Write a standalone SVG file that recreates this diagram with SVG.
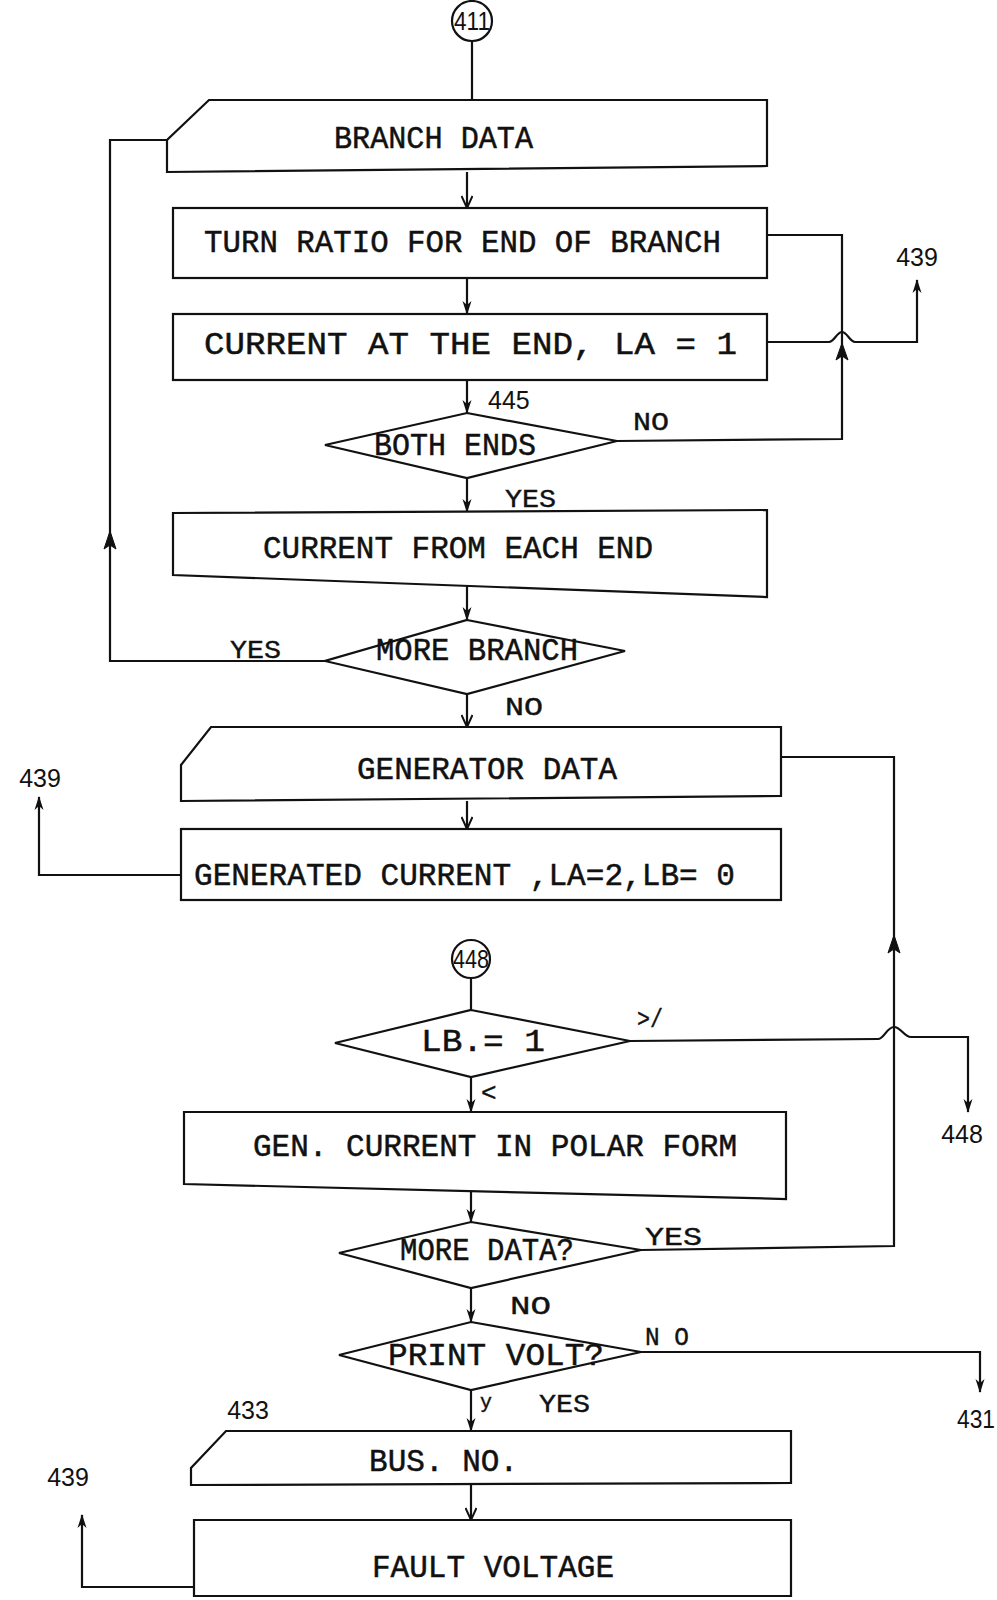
<svg xmlns="http://www.w3.org/2000/svg" width="997" height="1600" viewBox="0 0 997 1600">
<defs>
<style>
.s{fill:#fff;stroke:#111;stroke-width:2.2}
.c{fill:none;stroke:#111;stroke-width:2.2}
.t{font-family:"Liberation Mono","DejaVu Sans Mono",monospace;font-size:32px;fill:#111;stroke:#111;stroke-width:0.5}
.l{font-family:"Liberation Mono","DejaVu Sans Mono",monospace;font-size:26px;fill:#111;stroke:#111;stroke-width:0.4}
.n{font-family:"Liberation Sans","DejaVu Sans",sans-serif;font-size:25px;fill:#111}
.ah{fill:#111;stroke:#111;stroke-width:1}
</style>
<marker id="fa" viewBox="0 0 14 10" refX="13" refY="5" markerWidth="14" markerHeight="10" markerUnits="userSpaceOnUse" orient="auto">
<path d="M0,0.5 L14,5 L0,9.5 L4,5 z" fill="#111"/>
</marker>
<marker id="va" viewBox="0 0 14 12" refX="13" refY="6" markerWidth="14" markerHeight="12" markerUnits="userSpaceOnUse" orient="auto">
<path d="M1,0.5 L13,6 L1,11.5" fill="none" stroke="#111" stroke-width="2"/>
</marker>
</defs>
<rect width="997" height="1600" fill="#fff"/>

<g id="connectors">
<path class="c" d="M472,41 V100"/>
<path class="c" d="M467,172 V208" marker-end="url(#va)"/>
<path class="c" d="M467,278 V314" marker-end="url(#fa)"/>
<path class="c" d="M467,380 V413" marker-end="url(#fa)"/>
<path class="c" d="M467,478 V512" marker-end="url(#fa)"/>
<path class="c" d="M467,585 V620" marker-end="url(#fa)"/>
<path class="c" d="M467,694 V727" marker-end="url(#va)"/>
<path class="c" d="M467,801 V829" marker-end="url(#va)"/>
<path class="c" d="M471,978 V1010"/>
<path class="c" d="M471,1077 V1112" marker-end="url(#fa)"/>
<path class="c" d="M471,1184 V1222" marker-end="url(#fa)"/>
<path class="c" d="M471,1288 V1322" marker-end="url(#fa)"/>
<path class="c" d="M471,1390 V1431" marker-end="url(#fa)"/>
<path class="c" d="M471,1485 V1520" marker-end="url(#va)"/>
<path class="c" d="M617,441 L842,439 V235 H767"/>
<path class="ah" d="M842,343 L836,360 L842,356 L848,360 z"/>
<path class="c" d="M767,342 H829 C834,342 837,332 842,332 C847,332 850,342 855,342 H917 V280" marker-end="url(#fa)"/>
<path class="c" d="M325,661 H110 V140 H167"/>
<path class="ah" d="M110,531 L104,549 L110,545 L116,549 z"/>
<path class="c" d="M181,875 H39 V797" marker-end="url(#fa)"/>
<path class="c" d="M641,1250 L894,1246 V757 H781"/>
<path class="ah" d="M894,935 L888,953 L894,949 L900,953 z"/>
<path class="c" d="M630,1041 L878,1039 C884,1039 887,1027 894,1027 C901,1027 904,1037 911,1037 H968 V1112" marker-end="url(#fa)"/>
<path class="c" d="M641,1352 H980 V1392" marker-end="url(#fa)"/>
<path class="c" d="M194,1587 H82 V1515" marker-end="url(#fa)"/>
</g>

<g id="n411">
<circle class="s" cx="472" cy="21" r="20"/>
<text class="n" x="472" y="30" text-anchor="middle" textLength="36" lengthAdjust="spacingAndGlyphs">411</text>
</g>
<g id="branch_data">
<path class="s" d="M209,100 H767 V166 L167,172 V140 Z"/>
<text class="t" x="334" y="148" textLength="199" lengthAdjust="spacingAndGlyphs">BRANCH DATA</text>
</g>
<g id="turn_ratio">
<rect class="s" x="173" y="208" width="594" height="70"/>
<text class="t" x="204" y="252" textLength="517" lengthAdjust="spacingAndGlyphs">TURN RATIO FOR END OF BRANCH</text>
</g>
<g id="current_end">
<rect class="s" x="173" y="314" width="594" height="66"/>
<text class="t" x="204" y="354" textLength="533" lengthAdjust="spacingAndGlyphs">CURRENT AT THE END,  LA  =  1</text>
</g>
<g id="both_ends">
<path class="s" d="M467,413 L617,441 L467,478 L325,445 Z"/>
<text class="t" x="374" y="455" textLength="162" lengthAdjust="spacingAndGlyphs">BOTH ENDS</text>
</g>
<g id="current_each">
<path class="s" d="M173,513 L767,510 V597 L173,575 Z"/>
<text class="t" x="263" y="558" textLength="390" lengthAdjust="spacingAndGlyphs">CURRENT FROM EACH END</text>
</g>
<g id="more_branch">
<path class="s" d="M467,620 L625,651 L467,694 L325,661 Z"/>
<text class="t" x="376" y="660" textLength="202" lengthAdjust="spacingAndGlyphs">MORE BRANCH</text>
</g>
<g id="generator_data">
<path class="s" d="M211,727 H781 V796 L181,801 V765 Z"/>
<text class="t" x="357" y="779" textLength="260" lengthAdjust="spacingAndGlyphs">GENERATOR DATA</text>
</g>
<g id="generated_current">
<rect class="s" x="181" y="829" width="600" height="71"/>
<text class="t" x="194" y="885" textLength="541" lengthAdjust="spacingAndGlyphs">GENERATED CURRENT ,LA=2,LB= 0</text>
</g>
<g id="n448">
<circle class="s" cx="471" cy="959" r="19"/>
<text class="n" x="471" y="968" text-anchor="middle" textLength="36" lengthAdjust="spacingAndGlyphs">448</text>
</g>
<g id="lb_eq_1">
<path class="s" d="M471,1010 L630,1041 L471,1077 L335,1043 Z"/>
<text class="t" x="421" y="1051" textLength="124" lengthAdjust="spacingAndGlyphs">LB.= 1</text>
</g>
<g id="polar">
<path class="s" d="M184,1112 H786 V1199 L184,1184 Z"/>
<text class="t" x="253" y="1156" textLength="484" lengthAdjust="spacingAndGlyphs">GEN. CURRENT IN POLAR FORM</text>
</g>
<g id="more_data">
<path class="s" d="M471,1222 L641,1250 L471,1288 L339,1253 Z"/>
<text class="t" x="400" y="1260" textLength="174" lengthAdjust="spacingAndGlyphs">MORE DATA?</text>
</g>
<g id="print_volt">
<path class="s" d="M471,1322 L641,1352 L471,1390 L339,1355 Z"/>
<text class="t" x="388" y="1365" textLength="216" lengthAdjust="spacingAndGlyphs">PRINT VOLT?</text>
</g>
<g id="bus_no">
<path class="s" d="M226,1431 H791 V1483 L191,1485 V1468 Z"/>
<text class="t" x="369" y="1471" textLength="149" lengthAdjust="spacingAndGlyphs">BUS. NO.</text>
</g>
<g id="fault_voltage">
<path class="s" d="M194,1520 H791 V1596 H194 Z"/>
<text class="t" x="372" y="1577" textLength="242" lengthAdjust="spacingAndGlyphs">FAULT VOLTAGE</text>
</g>

<g id="labels">
<text class="n" x="917" y="266" text-anchor="middle">439</text>
<text class="n" x="488" y="409">445</text>
<text class="l" x="633" y="430" textLength="36" lengthAdjust="spacingAndGlyphs">NO</text>
<text class="l" x="505" y="507" textLength="51" lengthAdjust="spacingAndGlyphs">YES</text>
<text class="l" x="230" y="658" textLength="51" lengthAdjust="spacingAndGlyphs">YES</text>
<text class="l" x="505" y="715" textLength="38" lengthAdjust="spacingAndGlyphs">NO</text>
<text class="n" x="40" y="787" text-anchor="middle">439</text>
<text class="l" x="637" y="1027" textLength="26" lengthAdjust="spacingAndGlyphs">&gt;/</text>
<text class="l" x="481" y="1101">&lt;</text>
<text class="n" x="962" y="1143" text-anchor="middle">448</text>
<text class="l" x="645" y="1245" textLength="57" lengthAdjust="spacingAndGlyphs">YES</text>
<text class="l" x="510" y="1314" textLength="41" lengthAdjust="spacingAndGlyphs">NO</text>
<text class="l" x="645" y="1345" textLength="44" lengthAdjust="spacingAndGlyphs">N O</text>
<text class="l" x="480" y="1408" style="font-size:20px">y</text>
<text class="l" x="539" y="1412" textLength="51" lengthAdjust="spacingAndGlyphs">YES</text>
<text class="n" x="995" y="1428" text-anchor="end" textLength="38" lengthAdjust="spacingAndGlyphs">431</text>
<text class="n" x="248" y="1419" text-anchor="middle">433</text>
<text class="n" x="68" y="1486" text-anchor="middle">439</text>
</g>
</svg>
